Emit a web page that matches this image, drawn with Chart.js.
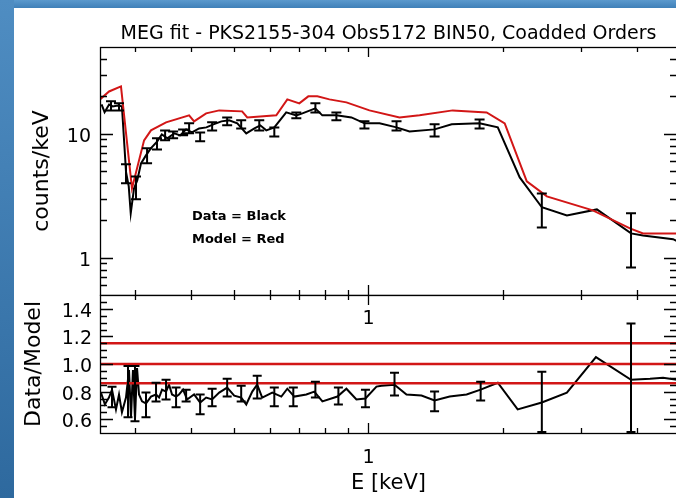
<!DOCTYPE html>
<html>
<head>
<meta charset="utf-8">
<script src="https://cdn.jsdelivr.net/npm/chart.js@4.4.0/dist/chart.umd.min.js"></script>
<style>
html, body { margin: 0; padding: 0; background: #fff; overflow: hidden; }
#page { position: relative; width: 676px; height: 498px; overflow: hidden; background: #fff; }
#bandTop { position: absolute; left: 0; top: 0; width: 676px; height: 8px; background: linear-gradient(#5b99cd, #3f80b8); }
#bandLeft { position: absolute; left: 0; top: 0; width: 14px; height: 498px; background: linear-gradient(#4f8dc2, #2e699e); }
#cTop { position: absolute; left: 0; top: 0; }
#cBot { position: absolute; left: 0; top: 290px; }
</style>
</head>
<body>
<div id="page">
  <div id="bandTop"></div>
  <div id="bandLeft"></div>
  <canvas id="cTop" width="678" height="296"></canvas>
  <canvas id="cBot" width="678" height="208"></canvas>
</div>
<script>
// spectre MEG : données (noir), modèle (rouge), rapport données/modèle

const FONT = 'DejaVu Sans';

// axe des énergies (keV)
const energyMin = 0.25;
const energyMax = 4.92;
const energyLabelTicks = [1];
const energyMajorTicks = [1];
const energyMinorTicks = [0.3, 0.4, 0.5, 0.6, 0.7, 0.8, 0.9, 2, 3, 4];

// panneau du haut : counts/keV
const countsMin = 0.5;
const countsMax = 50;
const countsLabelTicks = [1, 10];
const countsMinorTicks = [0.6, 0.7, 0.8, 0.9, 2, 3, 4, 5, 6, 7, 8, 9, 20, 30, 40];

const dataE = [0.252, 0.256, 0.262, 0.267, 0.274, 0.280, 0.286, 0.290, 0.293, 0.298, 0.303, 0.309, 0.317, 0.325,
  0.336, 0.344, 0.354, 0.367, 0.378, 0.390, 0.402, 0.417, 0.433, 0.449, 0.468, 0.487, 0.508, 0.532, 0.555, 0.572,
  0.590, 0.615, 0.654, 0.689, 0.711, 0.760, 0.788, 0.847, 0.916, 0.980, 1.059, 1.156, 1.236, 1.407, 1.537, 1.775,
  1.950, 2.184, 2.448, 2.786, 3.253, 3.880, 4.128, 4.822, 4.92];
const dataCounts = [17.2, 14.9, 17.2, 16.6, 16.9, 16.6, 4.88, 3.76, 2.28, 3.62, 4.20, 5.76, 6.68, 7.61,
  8.67, 9.87, 9.17, 10.06, 9.69, 10.83, 10.24, 11.03, 11.24, 11.89, 12.57, 12.81, 12.11, 10.06, 11.03, 11.67,
  10.63, 11.24, 14.85, 14.05, 14.58, 16.0, 14.05, 14.05, 13.53, 12.11, 12.11, 11.24, 10.43, 10.83, 11.89, 12.11,
  11.24, 4.44, 2.55, 2.19, 2.45, 1.57, 1.51, 1.41, 1.36];

const modelE = [0.25, 0.262, 0.2786, 0.2949, 0.3139, 0.3253, 0.3516, 0.3961, 0.4064, 0.4325, 0.4627, 0.5208, 0.5348,
  0.6213, 0.6577, 0.6998, 0.7330, 0.7679, 0.8174, 0.8924, 1.005, 1.174, 1.302, 1.545, 1.841, 2.021, 2.265, 2.512,
  3.186, 3.859, 4.128, 4.92];
const modelCounts = [18.9, 21.9, 24.07, 3.62, 8.83, 10.63, 12.34, 14.05, 12.57, 14.58, 15.41, 15.13, 13.53,
  14.05, 18.9, 17.56, 19.99, 19.99, 18.9, 17.88, 15.41, 13.53, 14.05, 15.41, 14.85, 12.11, 4.124, 3.121,
  2.407, 1.723, 1.570, 1.57];

// barres d'erreur (panneau du haut)
const errE = [0.2646, 0.2758, 0.2859, 0.3011, 0.3188, 0.3356, 0.3499, 0.3647, 0.3840, 0.3961, 0.4193, 0.4461,
  0.4821, 0.5183, 0.5690, 0.6150, 0.6890, 0.7603, 0.8474, 0.9795, 1.156, 1.407, 1.775, 2.448, 3.880];
const errHi = [18.22, 17.56, 5.655, 4.524, 7.612, 9.165, 10.63, 10.43, 10.83, 12.11, 10.24, 12.34,
  13.53, 12.81, 12.81, 11.24, 14.85, 17.56, 14.85, 12.57, 12.57, 11.89, 13.04, 3.30, 2.277];
const errLo = [15.41, 15.41, 3.974, 2.953, 5.761, 7.47, 8.83, 9.165, 9.69, 10.06, 8.67, 10.63,
  11.67, 11.03, 10.63, 9.51, 13.29, 14.85, 12.81, 11.03, 10.63, 9.51, 11.03, 1.755, 0.835];

// panneau du bas : rapport données/modèle
const ratioMin = 0.5;
const ratioMax = 1.5;
const ratioLabelTicks = [0.6, 0.8, 1.0, 1.2, 1.4];
const ratioMinorTicks = [0.55, 0.65, 0.7, 0.75, 0.85, 0.9, 0.95, 1.05, 1.1, 1.15, 1.25, 1.3, 1.35, 1.45];
const ratioRefLevels = [1.15, 1.0, 0.86];

const ratioE = [0.2512, 0.2564, 0.2618, 0.2660, 0.2715, 0.2758, 0.2800, 0.2859, 0.2904, 0.2934, 0.2964, 0.2995,
  0.3027, 0.3058, 0.3106, 0.3170, 0.3253, 0.3339, 0.3392, 0.3444, 0.3516, 0.3571, 0.3627, 0.3703, 0.3760, 0.3840,
  0.3920, 0.4064, 0.4193, 0.4325, 0.4461, 0.4627, 0.4821, 0.5000, 0.5183, 0.5320, 0.5488, 0.5630, 0.5777, 0.6086,
  0.6377, 0.6577, 0.6819, 0.7256, 0.7561, 0.7883, 0.8519, 0.8924, 0.9398, 0.9846, 1.0423, 1.0696, 1.144, 1.217,
  1.315, 1.407, 1.521, 1.660, 1.785, 1.950, 2.161, 2.448, 2.786, 3.237, 3.880, 4.281, 4.578, 4.92];
const ratioVal = [0.793, 0.707, 0.757, 0.814, 0.671, 0.779, 0.650, 0.757, 0.957, 0.614, 0.957, 0.600,
  0.971, 0.779, 0.729, 0.714, 0.764, 0.779, 0.757, 0.814, 0.800, 0.850, 0.779, 0.764, 0.779, 0.814,
  0.743, 0.779, 0.721, 0.757, 0.743, 0.793, 0.829, 0.771, 0.757, 0.707, 0.800, 0.850, 0.757, 0.793,
  0.764, 0.821, 0.764, 0.779, 0.800, 0.729, 0.764, 0.821, 0.743, 0.750, 0.836, 0.843, 0.850, 0.779,
  0.771, 0.736, 0.764, 0.779, 0.814, 0.864, 0.671, 0.721, 0.793, 1.050, 0.886, 0.893, 0.900, 0.886];

const ratioErrE = [0.2660, 0.2889, 0.2995, 0.3170, 0.3339, 0.3516, 0.3703, 0.3900, 0.4193, 0.4461, 0.4821,
  0.5183, 0.5630, 0.6150, 0.6784, 0.7603, 0.8562, 0.9846, 1.144, 1.407, 1.785, 2.448, 3.880];
const ratioErrHi = [0.836, 0.986, 0.986, 0.793, 0.864, 0.886, 0.829, 0.814, 0.779, 0.821, 0.893,
  0.843, 0.914, 0.829, 0.829, 0.871, 0.829, 0.814, 0.936, 0.800, 0.871, 0.943, 1.293];
const ratioErrLo = [0.686, 0.614, 0.586, 0.614, 0.729, 0.743, 0.686, 0.729, 0.636, 0.693, 0.764,
  0.729, 0.750, 0.693, 0.693, 0.757, 0.707, 0.686, 0.771, 0.657, 0.736, 0.507, 0.507];

const RED = '#d21616';

function toPoints(xs, ys) {
  return xs.map((x, i) => ({ x: x, y: ys[i] }));
}

// pas de marge automatique autour des axes
function noPadding(s) {
  s.paddingTop = 0;
  s.paddingBottom = 0;
  s.paddingLeft = 0;
  s.paddingRight = 0;
}

// cadre + graduations IDL (vers l'intérieur sur les 4 côtés)
const cadrePlugin = {
  id: 'cadre',
  afterDatasetsDraw(chart, args, opts) {
    const ctx = chart.ctx;
    const a = chart.chartArea;
    const xs = chart.scales.x;
    const ys = chart.scales.y;
    ctx.save();
    ctx.strokeStyle = '#000';
    ctx.lineWidth = 1.3;
    ctx.strokeRect(a.left + 0.5, a.top + 0.5, a.right - a.left, a.bottom - a.top);
    ctx.beginPath();
    const xTick = (v, len) => {
      const px = Math.round(xs.getPixelForValue(v)) + 0.5;
      ctx.moveTo(px, a.top); ctx.lineTo(px, a.top + len);
      ctx.moveTo(px, a.bottom); ctx.lineTo(px, a.bottom - len);
    };
    const yTick = (v, len) => {
      const py = Math.round(ys.getPixelForValue(v)) + 0.5;
      ctx.moveTo(a.left, py); ctx.lineTo(a.left + len, py);
      ctx.moveTo(a.right, py); ctx.lineTo(a.right - len, py);
    };
    energyMajorTicks.forEach(v => xTick(v, 10));
    energyMinorTicks.forEach(v => xTick(v, 5));
    opts.yMajor.forEach(v => yTick(v, 13));
    opts.yMinor.forEach(v => yTick(v, 7));
    ctx.stroke();

    // barres d'erreur
    ctx.lineWidth = 2;
    ctx.beginPath();
    opts.errE.forEach((e, i) => {
      const px = xs.getPixelForValue(e);
      const p1 = ys.getPixelForValue(opts.errHi[i]);
      const p2 = ys.getPixelForValue(opts.errLo[i]);
      ctx.moveTo(px, p1); ctx.lineTo(px, p2);
      ctx.moveTo(px - opts.cap, p1); ctx.lineTo(px + opts.cap, p1);
      ctx.moveTo(px - opts.cap, p2); ctx.lineTo(px + opts.cap, p2);
    });
    ctx.stroke();

    // textes libres
    ctx.fillStyle = '#000';
    ctx.textBaseline = 'middle';
    (opts.notes || []).forEach(n => {
      ctx.font = n.font;
      ctx.textAlign = n.align;
      const x = n.xVal !== undefined ? xs.getPixelForValue(n.xVal) : a.left + n.dx;
      ctx.fillText(n.text, x, a.top + n.dy);
    });
    ctx.restore();
  }
};

function energyAxis(showLabels) {
  return {
    type: 'logarithmic',
    min: energyMin,
    max: energyMax,
    display: showLabels,
    afterBuildTicks: s => { s.ticks = energyLabelTicks.map(v => ({ value: v })); },
    afterFit: s => { s.height = showLabels ? 65 : 0; noPadding(s); },
    grid: { display: false, drawTicks: false },
    border: { display: false },
    ticks: {
      color: '#000', font: { family: FONT, size: 19 }, padding: 14,
      autoSkip: false, maxRotation: 0, callback: v => String(v)
    },
    title: {
      display: true, text: 'E [keV]', color: '#000',
      font: { family: FONT, size: 21 }, padding: { top: 0, bottom: 2 }
    }
  };
}

// graphique du haut : spectre
new Chart(document.getElementById('cTop'), {
  type: 'scatter',
  data: {
    datasets: [
      { data: toPoints(modelE, modelCounts), showLine: true, borderColor: RED, borderWidth: 2, pointRadius: 0 },
      { data: toPoints(dataE, dataCounts), showLine: true, borderColor: '#000', borderWidth: 2, pointRadius: 0 }
    ]
  },
  options: {
    responsive: false,
    animation: false,
    layout: { padding: { top: 0, right: 1, bottom: 1, left: 0 } },
    scales: {
      x: energyAxis(false),
      y: {
        type: 'logarithmic',
        min: countsMin,
        max: countsMax,
        afterBuildTicks: s => { s.ticks = countsLabelTicks.map(v => ({ value: v })); },
        afterFit: s => { s.width = 100; noPadding(s); },
        grid: { display: false, drawTicks: false },
        border: { display: false },
        ticks: { color: '#000', font: { family: FONT, size: 19 }, padding: 9, labelOffset: 3, callback: v => String(v) },
        title: {
          display: true, text: 'counts/keV', color: '#000',
          font: { family: FONT, size: 22 }, padding: { top: 29, bottom: 0 }
        }
      }
    },
    plugins: {
      legend: { display: false },
      tooltip: { enabled: false },
      title: {
        display: true,
        text: 'MEG fit - PKS2155-304 Obs5172 BIN50, Coadded Orders',
        fullSize: false,
        color: '#000',
        font: { family: FONT, size: 19, weight: 'normal', lineHeight: 1 },
        padding: { top: 25, bottom: 3 }
      },
      cadre: {
        yMajor: countsLabelTicks,
        yMinor: countsMinorTicks,
        errE: errE, errHi: errHi, errLo: errLo, cap: 5,
        notes: [
          { text: 'Data = Black', font: 'bold 13px "DejaVu Sans"', align: 'left', dx: 92, dy: 170 },
          { text: 'Model = Red', font: 'bold 13px "DejaVu Sans"', align: 'left', dx: 92, dy: 193 }
        ]
      }
    }
  },
  plugins: [cadrePlugin]
});

// graphique du bas : rapport
new Chart(document.getElementById('cBot'), {
  type: 'scatter',
  data: {
    datasets: ratioRefLevels.map(level => ({
      data: toPoints([energyMin, energyMax], [level, level]),
      showLine: true, borderColor: RED, borderWidth: 2.5, pointRadius: 0
    })).concat([
      { data: toPoints(ratioE, ratioVal), showLine: true, borderColor: '#000', borderWidth: 2, pointRadius: 0 }
    ])
  },
  options: {
    responsive: false,
    animation: false,
    layout: { padding: { top: 5, right: 1, bottom: 0, left: 0 } },
    scales: {
      x: energyAxis(true),
      y: {
        type: 'linear',
        min: ratioMin,
        max: ratioMax,
        afterBuildTicks: s => { s.ticks = ratioLabelTicks.map(v => ({ value: v })); },
        afterFit: s => { s.width = 100; noPadding(s); },
        grid: { display: false, drawTicks: false },
        border: { display: false },
        ticks: { color: '#000', font: { family: FONT, size: 19 }, padding: 8, labelOffset: 3, callback: v => v.toFixed(1) },
        title: {
          display: true, text: 'Data/Model', color: '#000',
          font: { family: FONT, size: 22 }, padding: { top: 21, bottom: 0 }
        }
      }
    },
    plugins: {
      legend: { display: false },
      tooltip: { enabled: false },
      cadre: {
        yMajor: ratioLabelTicks,
        yMinor: ratioMinorTicks,
        errE: ratioErrE, errHi: ratioErrHi, errLo: ratioErrLo, cap: 4.5,
        notes: [
          { text: '1', font: '19px "DejaVu Sans"', align: 'center', xVal: 1, dy: 24 }
        ]
      }
    }
  },
  plugins: [cadrePlugin]
});
</script>
</body>
</html>
